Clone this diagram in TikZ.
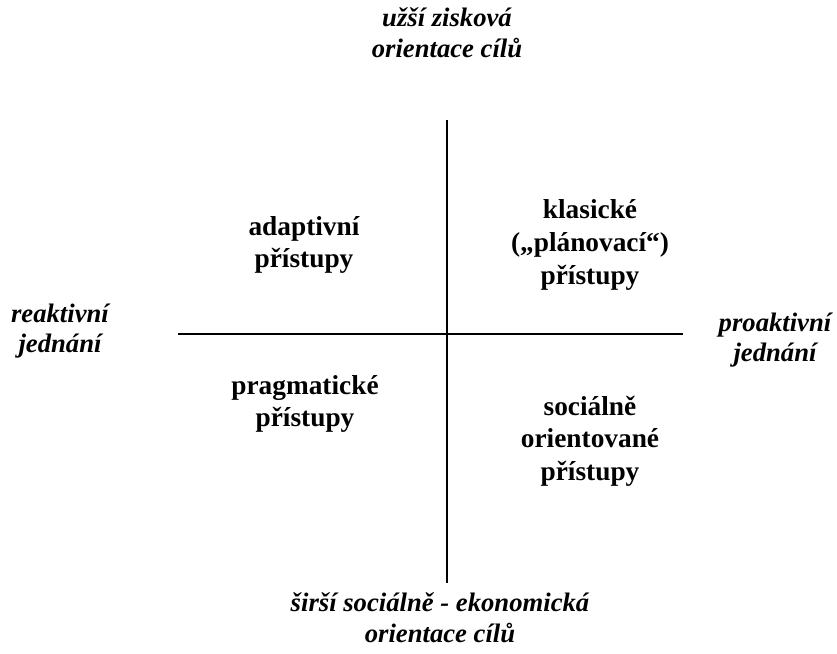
\documentclass[tikz,border=0pt]{standalone}
\usepackage{fontspec}
\setmainfont{Liberation Serif}
\tikzset{
  axislabel/.style={font=\fontsize{20}{23}\selectfont\bfseries\itshape,align=center},
  quadlabel/.style={font=\fontsize{20.5}{24.5}\selectfont\bfseries,align=center}
}
\begin{document}
\begin{tikzpicture}[x=0.75pt,y=-0.75pt]
\useasboundingbox (0,0) rectangle (837,653);
% osy
\draw[line width=1.4pt] (447,120) -- (447,583);
\draw[line width=1.4pt] (178,334) -- (683,334);
% popisky os
\node[axislabel] (cile_uzsi) at (447,33) {užší zisková\\orientace cílů};
\node[axislabel] (reakt) at (60,331) {reaktivní\\jednání};
\node[axislabel] (proakt) at (775,340) {proaktivní\\jednání};
\node[axislabel] (cile_sirsi) at (440,618) {širší sociálně - ekonomická\\orientace cílů};
% kvadranty
\node[quadlabel] (adapt) at (304,245) {adaptivní\\přístupy};
\node[quadlabel] (klas) at (590,245) {klasické\\(„plánovací“)\\přístupy};
\node[quadlabel] (pragm) at (305,404) {pragmatické\\přístupy};
\node[quadlabel] (social) at (590,441) {sociálně\\orientované\\přístupy};
\end{tikzpicture}
\end{document}
